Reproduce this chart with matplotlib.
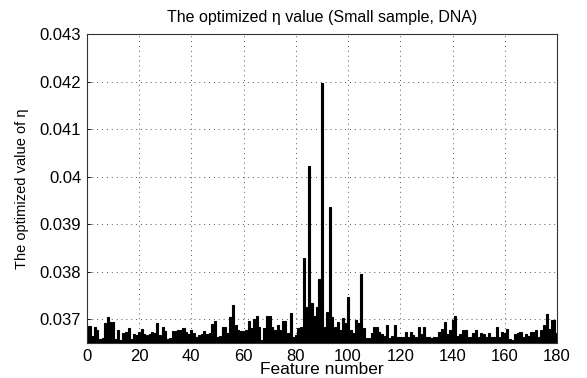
import numpy as np
from matplotlib import pyplot as plt

plt.rcParams['font.family'] = ['Liberation Sans', 'DejaVu Sans']

# optimized eta value for each feature (features 1..180)
features = np.arange(1, 181)
eta = [
    0.03687, 0.03666, 0.03685, 0.03678, 0.03659, 0.03661, 0.03692, 0.03706, 0.03694, 0.03694,
    0.03659, 0.03677, 0.03657, 0.03671, 0.03673, 0.03682, 0.03659, 0.03670, 0.03668, 0.03673,
    0.03680, 0.03670, 0.03668, 0.03670, 0.03673, 0.03671, 0.03692, 0.03668, 0.03685, 0.03675,
    0.03659, 0.03662, 0.03676, 0.03675, 0.03677, 0.03678, 0.03681, 0.03674, 0.03669, 0.03678,
    0.03672, 0.03663, 0.03667, 0.03669, 0.03675, 0.03670, 0.03672, 0.03691, 0.03697, 0.03663,
    0.03665, 0.03684, 0.03684, 0.03672, 0.03706, 0.03731, 0.03688, 0.03677, 0.03676, 0.03676,
    0.03677, 0.03697, 0.03682, 0.03701, 0.03708, 0.03684, 0.03656, 0.03681, 0.03708, 0.03708,
    0.03684, 0.03677, 0.03689, 0.03678, 0.03696, 0.03696, 0.03671, 0.03713, 0.03663, 0.03668,
    0.03682, 0.03684, 0.03830, 0.03726, 0.04022, 0.03734, 0.03708, 0.03727, 0.03786, 0.04197,
    0.03685, 0.03715, 0.03936, 0.03705, 0.03684, 0.03694, 0.03677, 0.03702, 0.03692, 0.03747,
    0.03677, 0.03671, 0.03698, 0.03692, 0.03795, 0.03682, 0.03660, 0.03660, 0.03671, 0.03684,
    0.03684, 0.03673, 0.03670, 0.03666, 0.03689, 0.03661, 0.03666, 0.03689, 0.03664, 0.03664,
    0.03664, 0.03673, 0.03664, 0.03673, 0.03668, 0.03664, 0.03685, 0.03670, 0.03684, 0.03663,
    0.03663, 0.03661, 0.03663, 0.03664, 0.03673, 0.03680, 0.03694, 0.03670, 0.03677, 0.03698,
    0.03708, 0.03666, 0.03670, 0.03678, 0.03677, 0.03663, 0.03663, 0.03671, 0.03678, 0.03663,
    0.03671, 0.03670, 0.03663, 0.03671, 0.03664, 0.03664, 0.03684, 0.03664, 0.03673, 0.03671,
    0.03680, 0.03659, 0.03657, 0.03670, 0.03671, 0.03673, 0.03663, 0.03670, 0.03666, 0.03673,
    0.03673, 0.03677, 0.03663, 0.03677, 0.03689, 0.03712, 0.03680, 0.03699, 0.03699, 0.03671,
]
xticks = np.arange(0, 181, 20)
yticks = [0.037, 0.038, 0.039, 0.04, 0.041, 0.042, 0.043]
yticklabels = ['0.037', '0.038', '0.039', '0.04', '0.041', '0.042', '0.043']

fig = plt.figure(figsize=(5.87, 3.78), dpi=100)
ax = fig.add_axes([0.148, 0.092, 0.801, 0.818])

ax.bar(features, eta, width=0.8, color='k', edgecolor='k', linewidth=0.8, zorder=3)

ax.set_xlim([0, 180])
ax.set_ylim([0.0365, 0.043])
ax.set_xticks(xticks)
ax.set_yticks(yticks)
ax.set_yticklabels(yticklabels)
ax.tick_params(direction='in', length=3, labelsize=12, pad=4, width=0.6)
ax.grid(True, linestyle=(0, (1, 4)), color='#555555', linewidth=0.7, zorder=0)
for s in ax.spines.values():
    s.set_linewidth(0.8)
    s.set_color('#333333')

ax.set_title('The optimized η value (Small sample, DNA)', fontsize=11.5, pad=9)
ax.set_ylabel('The optimized value of η', fontsize=10.5, labelpad=8)
ax.set_xlabel('Feature number', fontsize=12.5, labelpad=-1)

fig.savefig('out.png', dpi=100)
